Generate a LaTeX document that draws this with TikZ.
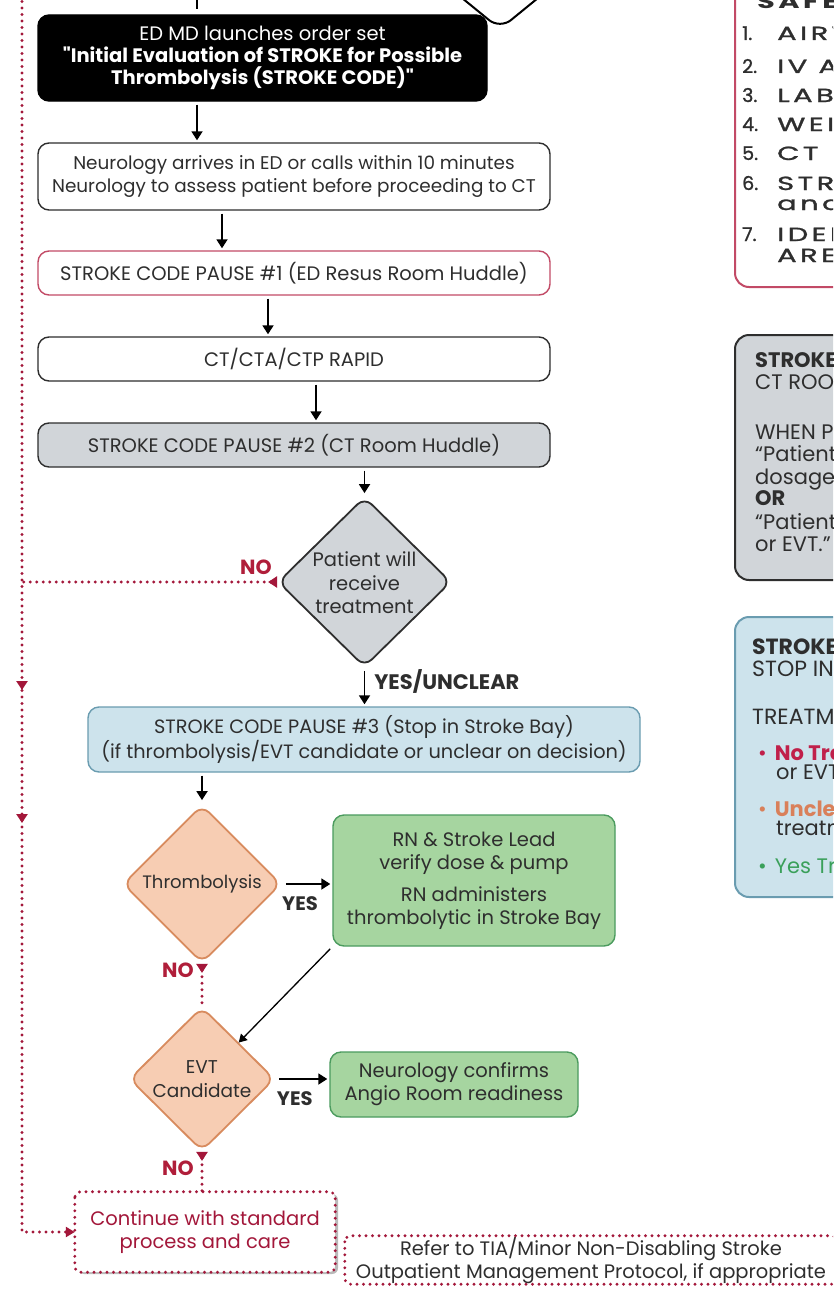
\documentclass[tikz,border=0pt]{standalone}
\usepackage{graphicx}
\usepackage{fontspec}
\setmainfont{Poppins}[Ligatures=TeXOff]
\usetikzlibrary{arrows.meta,shapes.geometric,shadows,decorations.markings}

\definecolor{crim}{HTML}{A3173A}
\definecolor{pinkred}{HTML}{C24A66}
\definecolor{grayfill}{HTML}{D1D5D9}
\definecolor{bluefill}{HTML}{CDE3EC}
\definecolor{blueline}{HTML}{6A9CB0}
\definecolor{peach}{HTML}{F7CDB3}
\definecolor{peachline}{HTML}{D88B5E}
\definecolor{greenfill}{HTML}{A6D5A0}
\definecolor{greenline}{HTML}{4B9B5E}
\definecolor{txt}{HTML}{2E2E2E}
\definecolor{nored}{HTML}{B01E3A}
\definecolor{uncl}{HTML}{D9805A}
\definecolor{yesg}{HTML}{3AA05A}
\definecolor{notr}{HTML}{C0204A}

% wide, tracked lettering of the safety checklist
\newcommand{\widetrack}[1]{\scalebox{1.52}[1]{\addfontfeatures{LetterSpace=12}#1}}

\tikzset{
  flow/.style={draw=txt, line width=1.4pt, rounded corners=11pt, minimum height=44pt,
    minimum width=512pt, inner sep=0pt, align=center, text=txt,
    font=\fontsize{19.5}{23}\selectfont},
  dia/.style={diamond, draw=txt, line width=1.8pt, rounded corners=10pt, inner sep=0pt},
  diatext/.style={align=center, text=txt, inner sep=0pt, font=\fontsize{19.5}{23.5}\selectfont},
  arr/.style={-{Triangle[length=9pt,width=11pt]}, line width=1.8pt, draw=black},
  thinarr/.style={-{Triangle[length=8pt,width=9pt]}, line width=1.3pt, draw=black},
  reddot/.style={draw=crim, line width=3.2pt, line cap=round, dash pattern=on 0pt off 6.5pt},
  yeslab/.style={font=\bfseries\fontsize{19.5}{22}\selectfont, text=txt, inner sep=0pt},
  nolab/.style={font=\bfseries\fontsize{20.5}{22}\selectfont, text=nored, inner sep=0pt},
  paneltxt/.style={anchor=base west, inner sep=0pt, text=txt, font=\fontsize{21}{24}\selectfont},
  panelbold/.style={paneltxt, font=\bfseries\fontsize{21}{24}\selectfont},
  safetxt/.style={paneltxt, font=\fontsize{19}{24}\selectfont\addfontfeatures{FakeBold=1.2}},
  dotbox/.style={rounded corners=6pt, inner sep=0pt, align=center,
    font=\fontsize{19.5}{23}\selectfont},
}

\begin{document}
\begin{tikzpicture}[x=1pt,y=-1pt]
\useasboundingbox (0,0) rectangle (833,1290);
\clip (0,0) rectangle (833,1290);
\fill[white] (0,0) rectangle (833,1290);

% lower corner of the decision above the order set
\draw[line width=2pt, rounded corners=14pt] (462,-2) -- (500,29) -- (538,-2);

% ---------------- right-hand side panels ----------------
\draw[pinkred, line width=2pt, rounded corners=14pt] (735,-40) rectangle (900,287);
\node[safetxt, font=\bfseries\fontsize{19}{24}\selectfont] (sf) at (757,9) {\widetrack{SAFETY}};
\foreach \n/\t/\y [count=\i] in {1./AIRWAY/40, 2./IV ACCESS/73, 3./LABS/102,
    4./WEIGHT/131, 5./CT/160, 6./STROKE/190, 7./IDENTIFY/241}{
  \node[safetxt] (sn\i) at (742,\y) {\n};
  \node[safetxt] (st\i) at (777,\y) {\widetrack{\t}};
}
\node[safetxt] (sc6) at (777,210) {\widetrack{and}};
\node[safetxt] (sc7) at (777,262) {\widetrack{ARE}};

\draw[fill=grayfill, draw=txt, line width=2pt, rounded corners=14pt] (735,335) rectangle (900,580);
\node[panelbold] (g01) at (755,367) {STROKE CODE};
\node[paneltxt]  (g02) at (755,389) {CT ROOM};
\node[paneltxt]  (g03) at (755,439) {WHEN PROCEEDING};
\node[paneltxt]  (g04) at (755,461) {“Patient is};
\node[paneltxt]  (g05) at (755,484) {dosage and};
\node[panelbold] (g06) at (755,505) {OR};
\node[paneltxt]  (g07) at (755,529) {“Patient is};
\node[paneltxt]  (g08) at (755,551) {or EVT.”};

\draw[fill=bluefill, draw=blueline, line width=2pt, rounded corners=14pt] (735,617) rectangle (900,897);
\node[panelbold, font=\bfseries\fontsize{22}{24}\selectfont] (b01) at (752,654) {STROKE CODE};
\node[paneltxt, font=\fontsize{22}{24}\selectfont]  (b02) at (752,676) {STOP IN};
\node[paneltxt, font=\fontsize{22}{24}\selectfont]  (b03) at (752,724) {TREATMENT};
\node[paneltxt, text=notr] (b04) at (758,760) {•\hspace{8pt}\textbf{No Treatment}};
\node[paneltxt]  (b05) at (776,779) {or EVT};
\node[paneltxt, text=uncl] (b06) at (758,816) {•\hspace{8pt}\textbf{Unclear}};
\node[paneltxt]  (b07) at (776,835) {treatment};
\node[paneltxt, text=yesg] (b08) at (758,873) {•\hspace{8pt}Yes Treatment};

% ---------------- main flow ----------------
\node[flow, fill=black, draw=black, text=white, minimum width=449pt, minimum height=86pt,
  font=\fontsize{19.5}{22}\selectfont] (top) at (262.5,58)
  {ED MD launches order set\\\textbf{"Initial Evaluation of STROKE for Possible}\\\textbf{Thrombolysis (STROKE CODE)"}};
\node[flow, minimum height=67pt, font=\fontsize{18.4}{23}\selectfont] (neuro) at (294,176.5)
  {Neurology arrives in ED or calls within 10 minutes\\Neurology to assess patient before proceeding to CT};
\node[flow, draw=pinkred] (p1) at (294,273) {STROKE CODE PAUSE \#1 (ED Resus Room Huddle)};
\node[flow] (ct) at (294,359) {CT/CTA/CTP RAPID};
\node[flow, fill=grayfill] (p2) at (294,445) {STROKE CODE PAUSE \#2 (CT Room Huddle)};

\node[dia, fill=grayfill, minimum width=173pt, minimum height=170pt] (d1) at (364.5,582) {};
\node[diatext] (d1t) at (364.5,583) {Patient will\\receive\\treatment};

\node[flow, fill=bluefill, draw=blueline, minimum width=552pt, minimum height=65pt,
  font=\fontsize{19.3}{25}\selectfont] (p3) at (364,739.5)
  {STROKE CODE PAUSE \#3 (Stop in Stroke Bay)\\(if thrombolysis/EVT candidate or unclear on decision)};

\node[dia, fill=peach, draw=peachline, minimum width=158pt, minimum height=158pt] (d2) at (202,884) {};
\node[diatext, font=\fontsize{18}{22}\selectfont] (d2t) at (d2.center) {Thrombolysis};

\node[flow, fill=greenfill, draw=greenline, minimum width=282pt, minimum height=131pt] (g1) at (474,880.5)
  {RN \& Stroke Lead\\verify dose \& pump\\[9pt]RN administers\\thrombolytic in Stroke Bay};

\node[dia, fill=peach, draw=peachline, minimum width=145pt, minimum height=144pt] (d3) at (202,1079) {};
\node[diatext, font=\fontsize{18.5}{24}\selectfont] (d3t) at (d3.center) {EVT\\Candidate};

\node[flow, fill=greenfill, draw=greenline, minimum width=248pt, minimum height=65pt] (g2) at (454,1084.5)
  {Neurology confirms\\Angio Room readiness};

\node[dotbox, fill=white, text=crim, minimum width=260pt, minimum height=80pt,
  drop shadow={shadow xshift=3pt, shadow yshift=-2pt, fill=black!45, opacity=0.6}] (cont) at (205,1232)
  {Continue with standard\\process and care};
\draw[reddot, rounded corners=6pt] (cont.north west) rectangle (cont.south east);

\node[dotbox, fill=white, text=txt, minimum width=492pt, minimum height=51pt] (refer) at (591,1260)
  {Refer to TIA/Minor Non-Disabling Stroke\\Outpatient Management Protocol, if appropriate};
\draw[reddot, rounded corners=6pt] ([yshift=-1.5pt]refer.north west) rectangle ([yshift=1.5pt]refer.south east);

% ---------------- connectors ----------------
\coordinate (in) at (197,0);
\draw[line width=1.8pt] (in) -- ++(0,9);
\draw[arr, shorten <=3pt, shorten >=2pt] ([xshift=-65.5pt]top.south) -- ([xshift=-97pt]neuro.north);
\draw[arr, shorten <=3pt, shorten >=2pt] ([xshift=-72pt]neuro.south) -- ([xshift=-72pt]p1.north);
\draw[arr, shorten <=3pt, shorten >=2pt] ([xshift=-26pt]p1.south) -- ([xshift=-26pt]ct.north);
\draw[arr, shorten <=3pt, shorten >=2pt] ([xshift=22pt]ct.south) -- ([xshift=22pt]p2.north);
\draw[arr, shorten <=3pt, shorten >=3pt] (p2.south -| d1.north) -- (d1.north);
\draw[arr, shorten <=3pt, shorten >=2pt] (d1.south) -- (d1.south |- p3.north)
  node[yeslab, font=\bfseries\fontsize{21}{22}\selectfont, anchor=west, pos=0.35, xshift=9pt] (yu) {YES/UNCLEAR};
\draw[arr, shorten <=3pt, shorten >=4pt] (p3.south -| d2.north) -- (d2.north);
\draw[arr, shorten <=4pt, shorten >=2pt] (d2.east) -- (d2.east -| g1.west)
  node[yeslab, pos=0.36, below=12pt] (y1) {YES};
\draw[thinarr, shorten <=3pt] (g1.south west) -- (d3.north east);
\draw[arr, shorten <=4pt, shorten >=2pt] (d3.east) -- (d3.east -| g2.west)
  node[yeslab, pos=0.36, below=12pt] (y2) {YES};

% the "no" routes, dotted
\coordinate (lt) at (22,-5);
\draw[reddot, -{Triangle[length=9pt,width=10pt]},
  postaction={decorate, decoration={markings,
    mark=at position 695pt with {\arrow{Triangle[length=9pt,width=11pt]}},
    mark=at position 828pt with {\arrow{Triangle[length=9pt,width=11pt]}}}}]
  (lt) -- (lt |- cont.west) -- (cont.west);
\draw[reddot, {Triangle[reversed,length=9pt,width=11pt]}-] (d1.west) -- (d1.west -| lt);
\draw[reddot, {Triangle[reversed,length=9pt,width=11pt]}-] (d2.south) -- (d3.north);
\draw[reddot, {Triangle[reversed,length=9pt,width=11pt]}-] (d3.south) -- (d3.south |- cont.north);

\node[nolab] (n1) at (256,567) {NO};
\node[nolab] (n2) at (178,970) {NO};
\node[nolab] (n3) at (178,1168) {NO};
\end{tikzpicture}
\end{document}
